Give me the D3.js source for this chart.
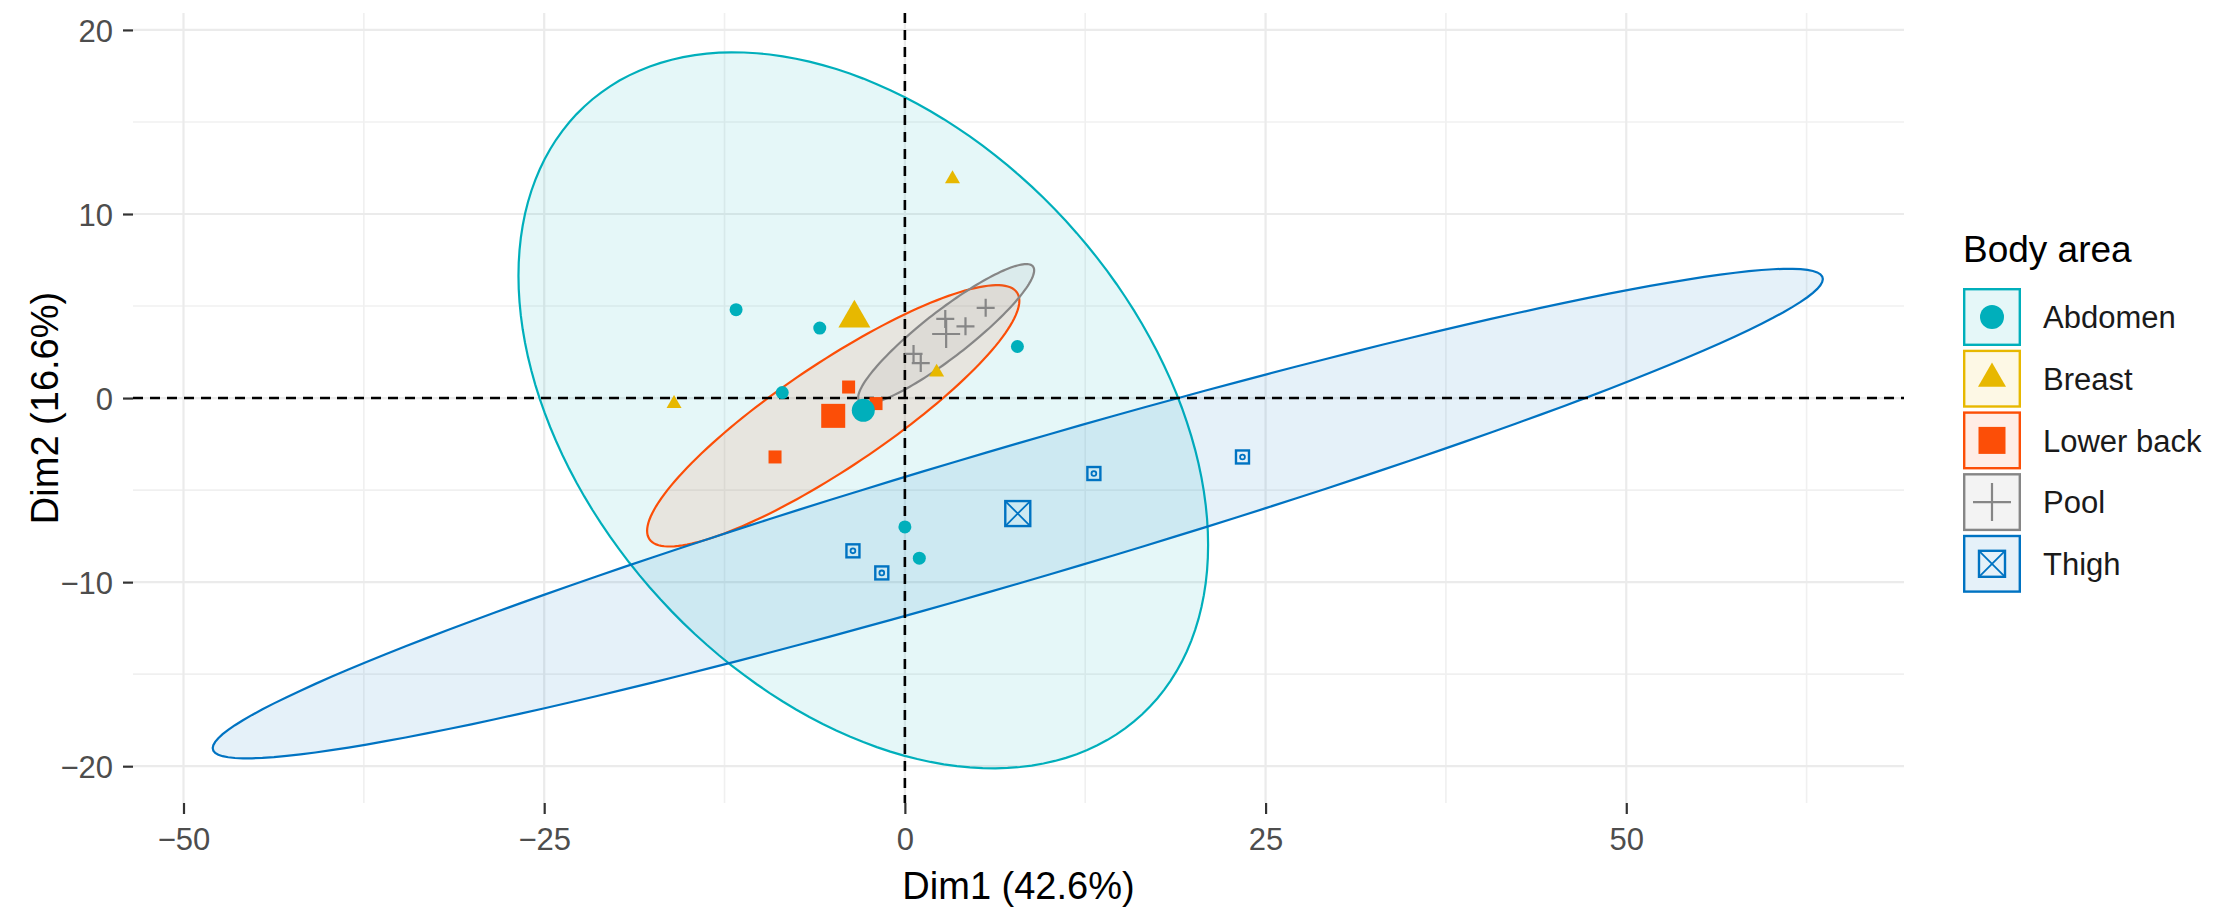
<!DOCTYPE html>
<html>
<head>
<meta charset="utf-8">
<script src="https://cdn.jsdelivr.net/npm/d3@7/dist/d3.min.js"></script>
<style>
  body { margin: 0; background: #fff; }
  text { font-family: "Liberation Sans", Arial, sans-serif; }
</style>
</head>
<body>
<svg id="chart" width="2221" height="911"></svg>
<script>
// groups and palette
const groups = ["Abdomen", "Breast", "Lower back", "Pool", "Thigh"];
const groupColors = ["#00AFBB", "#E7B800", "#FC4E07", "#868686", "#0073C2"];
const groupShapes = ["circle", "triangle", "square", "plus", "boxcross"];

// individuals (PCA coordinates)
const pointGroup = ["Abdomen", "Abdomen", "Abdomen", "Abdomen", "Abdomen", "Abdomen",
  "Breast", "Breast", "Breast",
  "Lower back", "Lower back", "Lower back",
  "Pool", "Pool", "Pool", "Pool", "Pool",
  "Thigh", "Thigh", "Thigh", "Thigh"];
const pointDim1 = [-11.7, -5.9, -8.5, 7.8, 0.0, 1.0,
  -16.0, 2.2, 3.3,
  -3.9, -2.0, -9.0,
  5.6, 2.8, 4.2, 0.6, 1.1,
  -3.6, -1.6, 13.1, 23.4];
const pointDim2 = [4.8, 3.8, 0.3, 2.8, -7.0, -8.7,
  -0.3, 1.4, 11.9,
  0.6, -0.3, -3.2,
  4.9, 4.3, 3.9, 2.4, 1.9,
  -8.3, -9.5, -4.1, -3.2];

// concentration ellipses: half extent along Dim1 / Dim2 and correlation
const ellipseGroup = ["Abdomen", "Lower back", "Pool", "Thigh"];
const ellipseHalfDim1 = [23.9, 12.9, 6.1, 55.8];
const ellipseHalfDim2 = [19.45, 7.1, 3.8, 13.3];
const ellipseRho = [-0.376, 0.88, 0.91, 0.958];

const xTicks = [-50, -25, 0, 25, 50];
const yTicks = [-20, -10, 0, 10, 20];
const xMinor = [-37.5, -12.5, 12.5, 37.5, 62.5];
const yMinor = [-15, -5, 5, 15];

var svg = d3.select("#chart");
var panel = { left: 133, right: 1904, top: 13, bottom: 803 };

var x = d3.scaleLinear().domain([-53.5, 69.25]).range([panel.left, panel.right]);
var y = d3.scaleLinear().domain([-22.0, 20.92]).range([panel.bottom, panel.top]);
var color = d3.scaleOrdinal().domain(groups).range(groupColors);
var shape = d3.scaleOrdinal().domain(groups).range(groupShapes);

// grid
var grid = svg.append("g");
grid.selectAll(".gxm").data(xMinor).enter().append("line")
  .attr("x1", d => x(d)).attr("x2", d => x(d))
  .attr("y1", panel.top).attr("y2", panel.bottom)
  .attr("stroke", "#F0F0F0").attr("stroke-width", 1.6);
grid.selectAll(".gym").data(yMinor).enter().append("line")
  .attr("x1", panel.left).attr("x2", panel.right)
  .attr("y1", d => y(d)).attr("y2", d => y(d))
  .attr("stroke", "#F0F0F0").attr("stroke-width", 1.6);
grid.selectAll(".gx").data(xTicks).enter().append("line")
  .attr("x1", d => x(d)).attr("x2", d => x(d))
  .attr("y1", panel.top).attr("y2", panel.bottom)
  .attr("stroke", "#EBEBEB").attr("stroke-width", 2.2);
grid.selectAll(".gy").data(yTicks).enter().append("line")
  .attr("x1", panel.left).attr("x2", panel.right)
  .attr("y1", d => y(d)).attr("y2", d => y(d))
  .attr("stroke", "#EBEBEB").attr("stroke-width", 2.2);

// group means
var means = groups.map(function (g) {
  var idx = d3.range(pointGroup.length).filter(i => pointGroup[i] === g);
  return {
    group: g,
    dim1: d3.mean(idx, i => pointDim1[i]),
    dim2: d3.mean(idx, i => pointDim2[i])
  };
});

// ellipses
var line = d3.line().x(d => x(d[0])).y(d => y(d[1])).curve(d3.curveLinearClosed);
var ellipses = ellipseGroup.map(function (g, k) {
  var m = means.find(d => d.group === g);
  var a = ellipseHalfDim1[k], b = ellipseHalfDim2[k], r = ellipseRho[k];
  var pts = d3.range(0, 160).map(function (j) {
    var t = j / 160 * 2 * Math.PI;
    return [m.dim1 + a * Math.cos(t),
            m.dim2 + b * (r * Math.cos(t) + Math.sqrt(1 - r * r) * Math.sin(t))];
  });
  return { group: g, pts: pts };
});

svg.append("g").selectAll("path").data(ellipses).enter().append("path")
  .attr("d", d => line(d.pts))
  .attr("fill", d => color(d.group))
  .attr("fill-opacity", 0.1)
  .attr("stroke", d => color(d.group))
  .attr("stroke-width", 2.2);

// reference lines
svg.append("line")
  .attr("x1", panel.left).attr("x2", panel.right)
  .attr("y1", y(0)).attr("y2", y(0))
  .attr("stroke", "#000").attr("stroke-width", 2.6).attr("stroke-dasharray", "10,7");
svg.append("line")
  .attr("x1", x(0)).attr("x2", x(0))
  .attr("y1", panel.top).attr("y2", panel.bottom)
  .attr("stroke", "#000").attr("stroke-width", 2.6).attr("stroke-dasharray", "10,7");

// markers
function marker(sel, kind, size, col, small) {
  if (kind === "circle") {
    sel.append("circle").attr("r", size / 2).attr("fill", col);
  } else if (kind === "triangle") {
    sel.append("path").attr("d", d3.symbol(d3.symbolTriangle, Math.sqrt(3) / 4 * size * size)())
      .attr("fill", col);
  } else if (kind === "square") {
    sel.append("rect").attr("x", -size / 2).attr("y", -size / 2)
      .attr("width", size).attr("height", size).attr("fill", col);
  } else if (kind === "plus") {
    var h = size / 2;
    sel.append("path").attr("d", "M" + (-h) + ",0H" + h + "M0," + (-h) + "V" + h)
      .attr("stroke", col).attr("stroke-width", 2.2).attr("fill", "none");
  } else if (kind === "boxcross") {
    var s = size / 2 - 1;
    sel.append("rect").attr("x", -s).attr("y", -s).attr("width", 2 * s).attr("height", 2 * s)
      .attr("fill", "none").attr("stroke", col).attr("stroke-width", 2.4);
    if (small) {
      sel.append("circle").attr("r", 2.4).attr("fill", "none")
        .attr("stroke", col).attr("stroke-width", 1.8);
    } else {
      sel.append("path").attr("d", "M" + (-s) + "," + (-s) + "L" + s + "," + s + "M" + s + "," + (-s) + "L" + (-s) + "," + s)
        .attr("stroke", col).attr("stroke-width", 1.8).attr("fill", "none");
    }
  }
}

var smallSize = { circle: 13, triangle: 15, square: 13, plus: 18, boxcross: 15 };
var bigSize = { circle: 23, triangle: 32, square: 24, plus: 28, boxcross: 27 };

var pts = svg.append("g");
d3.range(pointGroup.length).forEach(function (i) {
  var g = pointGroup[i];
  var node = pts.append("g").attr("transform", "translate(" + x(pointDim1[i]) + "," + y(pointDim2[i]) + ")");
  marker(node, shape(g), smallSize[shape(g)], color(g), true);
});
means.forEach(function (m) {
  var node = pts.append("g").attr("transform", "translate(" + x(m.dim1) + "," + y(m.dim2) + ")");
  marker(node, shape(m.group), bigSize[shape(m.group)], color(m.group), false);
});

// axes
var xAxis = svg.append("g").attr("transform", "translate(0," + panel.bottom + ")")
  .call(d3.axisBottom(x).tickValues(xTicks).tickSize(11).tickPadding(14).tickFormat(d3.format("d")));
var yAxis = svg.append("g").attr("transform", "translate(" + panel.left + ",0)")
  .call(d3.axisLeft(y).tickValues(yTicks).tickSize(10).tickPadding(10).tickFormat(d3.format("d")));
[xAxis, yAxis].forEach(function (ax) {
  ax.select(".domain").remove();
  ax.selectAll(".tick line").attr("stroke", "#333").attr("stroke-width", 2.2);
  ax.selectAll(".tick text").attr("fill", "#4D4D4D").style("font-size", "31px")
    .style("font-family", "'Liberation Sans', Arial, sans-serif");
});
yAxis.selectAll(".tick text").attr("dy", "0.36em");

svg.append("text")
  .attr("x", (panel.left + panel.right) / 2).attr("y", 899)
  .attr("text-anchor", "middle").style("font-size", "38px").attr("fill", "#000")
  .text("Dim1 (42.6%)");
svg.append("text")
  .attr("transform", "translate(58," + (panel.top + panel.bottom) / 2 + ") rotate(-90)")
  .attr("text-anchor", "middle").style("font-size", "38px").attr("fill", "#000")
  .text("Dim2 (16.6%)");

// legend
var legend = svg.append("g").attr("transform", "translate(1963,0)");
legend.append("text").attr("x", 0).attr("y", 262)
  .style("font-size", "37px").attr("fill", "#000").text("Body area");
var keySize = 58, keyStep = 61.7, keyTop = 288;
var keys = legend.selectAll(".key").data(groups).enter().append("g")
  .attr("transform", (d, i) => "translate(0," + (keyTop + i * keyStep) + ")");
keys.append("rect")
  .attr("x", 1.2).attr("y", 1.2).attr("width", keySize - 2.4).attr("height", keySize - 2.4)
  .attr("fill", d => color(d)).attr("fill-opacity", 0.1)
  .attr("stroke", d => color(d)).attr("stroke-width", 2.4);
keys.each(function (d) {
  var node = d3.select(this).append("g").attr("transform", "translate(" + keySize / 2 + "," + keySize / 2 + ")");
  var legendSize = { circle: 24, triangle: 28, square: 27, plus: 38, boxcross: 28 };
  marker(node, shape(d), legendSize[shape(d)], color(d), false);
});
keys.append("text")
  .attr("x", 80).attr("y", keySize / 2).attr("dy", "0.36em")
  .style("font-size", "31px").attr("fill", "#1A1A1A")
  .text(d => d);
</script>
</body>
</html>
